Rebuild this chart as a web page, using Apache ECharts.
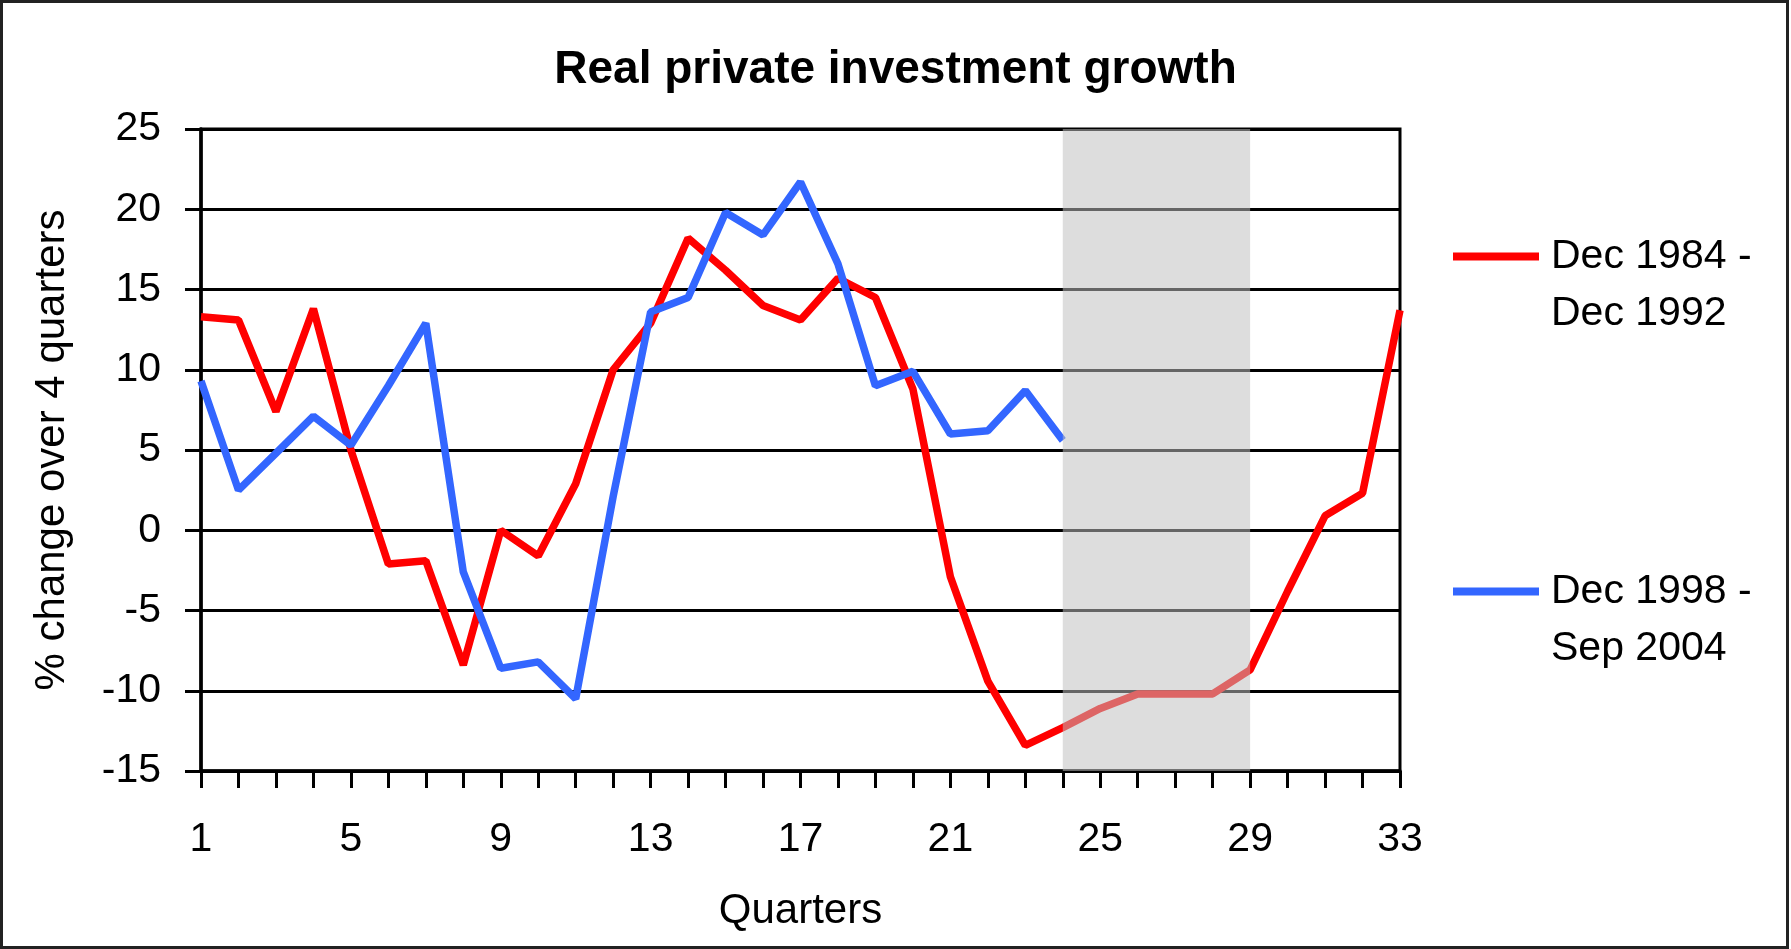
<!DOCTYPE html>
<html>
<head>
<meta charset="utf-8">
<title>Real private investment growth</title>
<script src="https://cdn.jsdelivr.net/npm/echarts@6/dist/echarts.min.js"></script>
<style>
  html, body { margin: 0; padding: 0; background: #fff; }
  #main { width: 1791px; height: 949px; }
</style>
</head>
<body>
<div id="main"></div>
<script>
// quarters 1..33
var quarters = [];
for (var q = 1; q <= 33; q++) quarters.push(String(q));

var name1 = 'Dec 1984 -\nDec 1992';
var name2 = 'Dec 1998 -\nSep 2004';

// % change over 4 quarters
var series1984 = [13.3, 13.1, 7.4, 13.8, 5.0, -2.1, -1.9, -8.4, 0.0, -1.6,
                  2.9, 10.0, 12.9, 18.2, 16.2, 14.0, 13.1, 15.7, 14.5, 8.8,
                  -2.9, -9.4, -13.4, -12.3, -11.1, -10.2, -10.2, -10.2, -8.7, -3.8,
                  0.9, 2.3, 13.7];
var series1998 = [9.3, 2.5, 4.8, 7.1, 5.3, 9.0, 12.9, -2.6, -8.6, -8.2,
                  -10.5, 2.1, 13.6, 14.5, 19.8, 18.4, 21.7, 16.6, 9.0, 9.9,
                  6.0, 6.2, 8.7, 5.6];

// shaded span
var shadeFrom = '24';
var shadeTo = '29';

var dom = document.getElementById('main');
var myChart = echarts.init(dom);

var font = 'Liberation Sans, Arial, sans-serif';

var legendText = {
    fontFamily: font,
    fontSize: 41,
    lineHeight: 57,
    color: '#000',
    padding: [0, 0, 0, 7]
};
// blank first line so the icon sits level with the first text line
function legendLabel(name) {
    return '\n' + name;
}

var option = {
    animation: false,
    backgroundColor: '#fff',
    title: {
        text: 'Real private investment growth',
        left: 'center',
        top: 42,
        textStyle: {
            fontFamily: font,
            fontSize: 46,
            fontWeight: 'bold',
            color: '#000'
        }
    },
    legend: [
        {
            data: [name1],
            left: 1453,
            top: 171,
            padding: 0,
            icon: 'rect',
            itemWidth: 86,
            itemHeight: 8,
            formatter: legendLabel,
            textStyle: legendText
        },
        {
            data: [name2],
            left: 1453,
            top: 506,
            padding: 0,
            icon: 'rect',
            itemWidth: 86,
            itemHeight: 8,
            formatter: legendLabel,
            textStyle: legendText
        }
    ],
    grid: {
        left: 201,
        right: 391,
        top: 129,
        bottom: 178,
        show: true,
        borderColor: '#000',
        borderWidth: 3
    },
    xAxis: {
        type: 'category',
        boundaryGap: false,
        data: quarters,
        name: 'Quarters',
        nameLocation: 'middle',
        nameGap: 119,
        nameTextStyle: { fontFamily: font, fontSize: 42, color: '#000' },
        axisLine: { onZero: false, lineStyle: { color: '#000', width: 3.5 } },
        axisTick: { interval: 0, length: 17, lineStyle: { color: '#000', width: 3 } },
        axisLabel: { interval: 3, margin: 48, fontFamily: font, fontSize: 41, color: '#000' },
        splitLine: { show: false }
    },
    yAxis: {
        type: 'value',
        min: -15,
        max: 25,
        interval: 5,
        name: '% change over 4 quarters',
        nameLocation: 'middle',
        nameRotate: 90,
        nameGap: 128,
        nameTextStyle: { fontFamily: font, fontSize: 42, color: '#000' },
        axisLine: { show: true, lineStyle: { color: '#000', width: 3.5 } },
        axisTick: { show: true, length: 16, lineStyle: { color: '#000', width: 3 } },
        axisLabel: { margin: 40, fontFamily: font, fontSize: 41, color: '#000' },
        splitLine: { show: true, lineStyle: { color: '#000', width: 3 } }
    },
    series: [
        {
            name: name1,
            type: 'line',
            data: series1984,
            showSymbol: false,
            symbol: 'none',
            color: '#ff0000',
            lineStyle: { color: '#ff0000', width: 7.5 },
            z: 2,
            markArea: {
                silent: true,
                z: 5,
                itemStyle: { color: 'rgba(191,191,191,0.53)' },
                data: [[{ xAxis: shadeFrom }, { xAxis: shadeTo }]]
            }
        },
        {
            name: name2,
            type: 'line',
            data: series1998,
            showSymbol: false,
            symbol: 'none',
            color: '#3366ff',
            lineStyle: { color: '#3366ff', width: 7.5 },
            z: 3
        }
    ],
    graphic: [
        {
            type: 'rect',
            shape: { x: 1.5, y: 1.5, width: 1786, height: 946 },
            style: { fill: 'none', stroke: '#222', lineWidth: 3 },
            silent: true
        }
    ]
};

myChart.setOption(option);
</script>
</body>
</html>
